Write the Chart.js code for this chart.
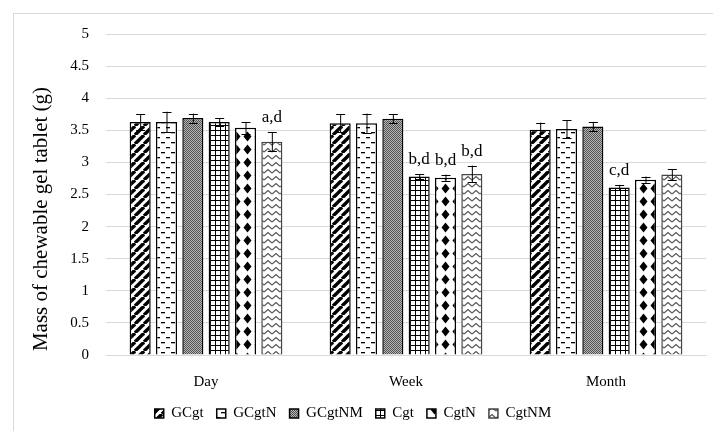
<!DOCTYPE html>
<html>
<head>
<meta charset="utf-8">
<script src="https://cdn.jsdelivr.net/npm/chart.js@4.4.1/dist/chart.umd.min.js"></script>
<style>
  html, body { margin: 0; padding: 0; background: #fff; }
  #wrap { position: relative; width: 713px; height: 431px; }
  #frame { position: absolute; left: 13px; top: 13px; width: 710px; height: 430px; border: 1px solid #d9d9d9; box-sizing: border-box; }
  canvas { position: absolute; left: 0; top: 0; }
</style>
</head>
<body>
<div id="wrap">
  <div id="frame"></div>
  <canvas id="c" width="713" height="431"></canvas>
</div>
<script>
// Storage periods on the x axis
const periods = ['Day', 'Week', 'Month'];

// Mean tablet mass (g) for each formulation
const GCgt   = [3.63, 3.61, 3.51];
const GCgtN  = [3.63, 3.61, 3.52];
const GCgtNM = [3.69, 3.68, 3.56];
const Cgt    = [3.63, 2.78, 2.61];
const CgtN   = [3.54, 2.76, 2.73];
const CgtNM  = [3.32, 2.82, 2.81];

// Standard deviations
const GCgtErr   = [0.12, 0.14, 0.11];
const GCgtNErr  = [0.16, 0.15, 0.14];
const GCgtNMErr = [0.07, 0.07, 0.07];
const CgtErr    = [0.06, 0.04, 0.04];
const CgtNErr   = [0.09, 0.05, 0.05];
const CgtNMErr  = [0.15, 0.13, 0.08];

// Significance letters above the bars
const GCgtSig   = ['', '', ''];
const GCgtNSig  = ['', '', ''];
const GCgtNMSig = ['', '', ''];
const CgtSig    = ['', 'b,d', 'c,d'];
const CgtNSig   = ['', 'b,d', ''];
const CgtNMSig  = ['a,d', 'b,d', ''];

// Y axis ticks
const yTicks = [0, 0.5, 1, 1.5, 2, 2.5, 3, 3.5, 4, 4.5, 5];

const SERIF = '"Liberation Serif", "Times New Roman", serif';

// ---- fill patterns ----
function tile(w, h, draw) {
  const cv = document.createElement('canvas');
  cv.width = w; cv.height = h;
  const g = cv.getContext('2d');
  g.fillStyle = '#fff';
  g.fillRect(0, 0, w, h);
  draw(g, w, h);
  return document.createElement('canvas').getContext('2d').createPattern(cv, 'repeat');
}

const patDiagonal = tile(9, 9, (g, w, h) => {
  g.strokeStyle = '#000';
  g.lineWidth = 3.4;
  for (let k = -1; k <= 1; k++) {
    g.beginPath();
    g.moveTo(k * w, h);
    g.lineTo(k * w + w, 0);
    g.stroke();
  }
});

const patDashes = tile(10, 10, (g) => {
  g.fillStyle = '#000';
  g.fillRect(1, 2, 4, 1.3);
  g.fillRect(6, 7, 4, 1.3);
});

const patDotted = tile(2, 2, (g) => {
  g.fillStyle = '#b8b8b8';
  g.fillRect(0, 0, 2, 2);
  g.fillStyle = '#505050';
  g.fillRect(0, 0, 1, 1);
  g.fillRect(1, 1, 1, 1);
});

const patGrid = tile(5, 5, (g) => {
  g.fillStyle = '#000';
  g.fillRect(0, 0, 5, 1);
  g.fillRect(0, 0, 1, 5);
});

const patDiamond = tile(11, 13, (g) => {
  g.fillStyle = '#000';
  g.beginPath();
  g.moveTo(5.5, 1.5);
  g.lineTo(9.5, 6.5);
  g.lineTo(5.5, 11.5);
  g.lineTo(1.5, 6.5);
  g.closePath();
  g.fill();
});

const patZigzag = tile(8, 7, (g) => {
  g.strokeStyle = '#555';
  g.lineWidth = 1.2;
  g.beginPath();
  g.moveTo(0, 5);
  g.lineTo(4, 1.5);
  g.lineTo(8, 5);
  g.stroke();
});

const seriesDefs = [
  { label: 'GCgt',   data: GCgt,   err: GCgtErr,   sig: GCgtSig,   fill: patDiagonal, border: '#000' },
  { label: 'GCgtN',  data: GCgtN,  err: GCgtNErr,  sig: GCgtNSig,  fill: patDashes,   border: '#000' },
  { label: 'GCgtNM', data: GCgtNM, err: GCgtNMErr, sig: GCgtNMSig, fill: patDotted,   border: '#000' },
  { label: 'Cgt',    data: Cgt,    err: CgtErr,    sig: CgtSig,    fill: patGrid,     border: '#000' },
  { label: 'CgtN',   data: CgtN,   err: CgtNErr,   sig: CgtNSig,   fill: patDiamond,  border: '#000' },
  { label: 'CgtNM',  data: CgtNM,  err: CgtNMErr,  sig: CgtNMSig,  fill: patZigzag,   border: '#444' }
];

// Error bars and significance letters
const errorBarPlugin = {
  id: 'errorBars',
  afterDatasetsDraw(chart) {
    const ctx = chart.ctx;
    const y = chart.scales.y;
    ctx.save();
    chart.data.datasets.forEach((ds, di) => {
      const meta = chart.getDatasetMeta(di);
      meta.data.forEach((bar, i) => {
        const v = ds.data[i], e = ds.errors[i];
        const x = bar.x;
        const yTop = y.getPixelForValue(v + e);
        const yBot = y.getPixelForValue(v - e);
        ctx.strokeStyle = '#000';
        ctx.lineWidth = 1;
        ctx.beginPath();
        ctx.moveTo(x + 0.5, yTop);
        ctx.lineTo(x + 0.5, yBot);
        ctx.moveTo(x - 4, Math.round(yTop) + 0.5);
        ctx.lineTo(x + 5, Math.round(yTop) + 0.5);
        ctx.moveTo(x - 4, Math.round(yBot) + 0.5);
        ctx.lineTo(x + 5, Math.round(yBot) + 0.5);
        ctx.stroke();
        const s = ds.sig[i];
        if (s) {
          ctx.fillStyle = '#000';
          ctx.font = '17px ' + SERIF;
          ctx.textAlign = 'center';
          ctx.textBaseline = 'alphabetic';
          ctx.fillText(s, x, yTop - 10);
        }
      });
    });
    ctx.restore();
  }
};

// Rotated y axis title
const yTitlePlugin = {
  id: 'yTitle',
  afterDraw(chart) {
    const ctx = chart.ctx;
    ctx.save();
    ctx.translate(41, 219);
    ctx.rotate(-Math.PI / 2);
    ctx.fillStyle = '#000';
    ctx.font = '21px ' + SERIF;
    ctx.textAlign = 'center';
    ctx.textBaseline = 'middle';
    ctx.fillText('Mass of chewable gel tablet (g)', 0, 0);
    ctx.restore();
  }
};

new Chart(document.getElementById('c'), {
  type: 'bar',
  data: {
    labels: periods,
    datasets: seriesDefs.map(s => ({
      label: s.label,
      data: s.data,
      errors: s.err,
      sig: s.sig,
      backgroundColor: s.fill,
      borderColor: s.border,
      borderWidth: 1.5,
      barPercentage: 0.8,
      categoryPercentage: 0.79
    }))
  },
  options: {
    responsive: false,
    animation: false,
    devicePixelRatio: 1,
    layout: { padding: { left: 0, right: 7, top: 34, bottom: 0 } },
    plugins: {
      tooltip: { enabled: false },
      legend: {
        position: 'bottom',
        labels: {
          color: '#000',
          font: { family: SERIF, size: 15 },
          boxWidth: 9,
          boxHeight: 9,
          padding: 13
        }
      }
    },
    scales: {
      x: {
        grid: { display: false, drawTicks: false },
        border: { color: '#d9d9d9' },
        ticks: { color: '#000', font: { family: SERIF, size: 15 }, padding: 18 },
        afterFit(scale) { scale.height = 38; }
      },
      y: {
        min: 0,
        max: 5,
        afterBuildTicks(scale) { scale.ticks = yTicks.map(v => ({ value: v })); },
        grid: { color: '#d9d9d9', drawTicks: false },
        border: { display: false },
        ticks: {
          color: '#000',
          font: { family: SERIF, size: 15 },
          padding: 17,
          callback: v => String(v)
        },
        afterFit(scale) { scale.width = 106; }
      }
    }
  },
  plugins: [errorBarPlugin, yTitlePlugin]
});
</script>
</body>
</html>
